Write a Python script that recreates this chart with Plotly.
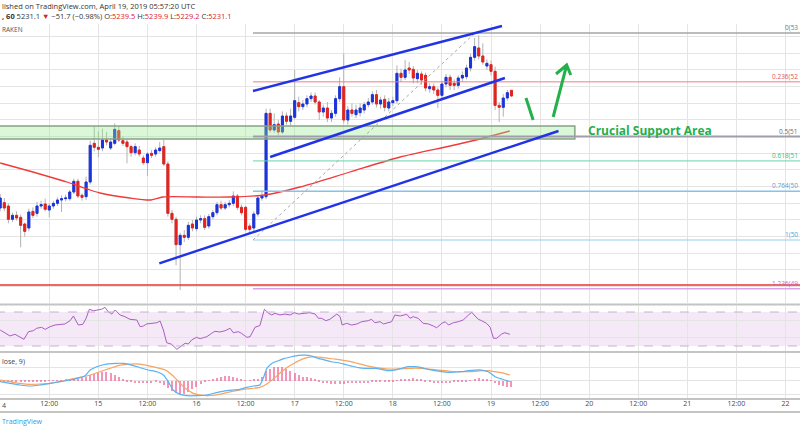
import numpy as np
import plotly.graph_objects as go

W, H = 800, 430

# ---------------- hourly candles (BTCUSD, KRAKEN, 60 min) from Apr 14 00:00 ----------------
opens = [5063, 5071, 5066, 5046, 5052, 5049, 5039, 5033, 5058, 5055,
         5066, 5069, 5060, 5066, 5070, 5075, 5077, 5077, 5087, 5103,
         5082, 5080, 5102, 5160, 5154, 5153, 5165, 5153, 5160, 5179,
         5164, 5162, 5155, 5146, 5150, 5138, 5131, 5145, 5144, 5149,
         5155, 5129, 5055, 5046, 5008, 5022, 5019, 5039, 5032, 5045,
         5047, 5036, 5050, 5056, 5068, 5063, 5068, 5070, 5081, 5064,
         5064, 5036, 5033, 5054, 5078, 5080, 5205, 5180, 5189, 5177,
         5201, 5193, 5199, 5221, 5215, 5219, 5227, 5231, 5222, 5207,
         5213, 5198, 5205, 5227, 5245, 5195, 5210, 5203, 5206, 5210,
         5218, 5222, 5233, 5219, 5226, 5213, 5221, 5224, 5265, 5259,
         5273, 5271, 5257, 5264, 5262, 5242, 5245, 5240, 5232, 5249,
         5259, 5250, 5247, 5258, 5260, 5273, 5289, 5303, 5291, 5276,
         5278, 5268, 5217, 5214, 5228, 5239.5]
highs = [5084, 5078, 5070, 5056, 5058, 5053, 5041, 5062, 5064, 5072,
         5074, 5077, 5070, 5074, 5079, 5082, 5083, 5090, 5107, 5107,
         5085, 5110, 5164, 5185, 5178, 5182, 5177, 5168, 5190, 5186,
         5170, 5166, 5158, 5160, 5156, 5142, 5147, 5150, 5154, 5162,
         5166, 5133, 5060, 5050, 5026, 5030, 5042, 5045, 5050, 5052,
         5052, 5054, 5060, 5072, 5074, 5072, 5075, 5088, 5084, 5068,
         5066, 5040, 5058, 5082, 5090, 5212, 5212, 5205, 5195, 5208,
         5206, 5212, 5270, 5230, 5225, 5232, 5236, 5236, 5225, 5218,
         5222, 5210, 5232, 5259, 5295, 5216, 5220, 5218, 5220, 5222,
         5228, 5238, 5240, 5230, 5232, 5228, 5230, 5277, 5272, 5285,
         5282, 5276, 5270, 5268, 5266, 5250, 5250, 5244, 5254, 5264,
         5263, 5256, 5262, 5268, 5278, 5294, 5318, 5322, 5310, 5286,
         5284, 5275, 5222, 5234, 5240, 5239.9]
lows = [5058, 5058, 5040, 5042, 5044, 5004, 5020, 5028, 5048, 5050,
        5062, 5058, 5049, 5062, 5066, 5057, 5073, 5074, 5084, 5078,
        5074, 5075, 5098, 5148, 5139, 5148, 5157, 5150, 5157, 5162,
        5156, 5130, 5140, 5142, 5140, 5128, 5111, 5138, 5140, 5146,
        5126, 5050, 5040, 4977, 4940, 5012, 5015, 5028, 5028, 5040,
        5030, 5032, 5046, 5052, 5060, 5060, 5064, 5066, 5060, 5052,
        5028, 5025, 5028, 5050, 5074, 5076, 5176, 5176, 5172, 5174,
        5188, 5186, 5196, 5208, 5210, 5214, 5222, 5218, 5195, 5200,
        5192, 5192, 5200, 5222, 5190, 5188, 5200, 5198, 5200, 5205,
        5214, 5218, 5214, 5212, 5208, 5208, 5216, 5220, 5252, 5255,
        5264, 5250, 5250, 5248, 5238, 5236, 5234, 5213, 5226, 5244,
        5240, 5240, 5242, 5252, 5256, 5268, 5284, 5286, 5278, 5270,
        5262, 5210, 5192, 5200, 5224, 5229.2]
closes = [5078, 5063, 5046, 5052, 5048, 5037, 5028, 5057, 5052, 5066,
          5068, 5061, 5066, 5070, 5075, 5077, 5078, 5087, 5103, 5081,
          5079, 5102, 5157, 5154, 5151, 5165, 5162, 5162, 5181, 5165,
          5160, 5155, 5146, 5155, 5144, 5131, 5144, 5142, 5150, 5153,
          5129, 5055, 5046, 5008, 5022, 5019, 5037, 5033, 5045, 5047,
          5034, 5050, 5056, 5068, 5063, 5068, 5070, 5081, 5064, 5056,
          5031, 5031, 5054, 5078, 5081, 5205, 5180, 5188, 5177, 5201,
          5193, 5201, 5224, 5215, 5219, 5227, 5231, 5222, 5207, 5213,
          5198, 5205, 5227, 5245, 5195, 5210, 5205, 5210, 5213, 5218,
          5222, 5233, 5219, 5225, 5214, 5222, 5224, 5265, 5259, 5270,
          5270, 5258, 5265, 5255, 5243, 5245, 5240, 5232, 5249, 5259,
          5247, 5247, 5258, 5262, 5273, 5289, 5305, 5291, 5282, 5280,
          5268, 5217, 5214, 5228, 5236, 5231.1]

# moving average (hour, price)
ma_points = [(0, 5130.5), (8.0, 5117), (16.3, 5102), (22.0, 5090), (24.4, 5085.5),
             (31.7, 5078), (36.6, 5075), (39.8, 5079.5), (48.1, 5079.5), (56.2, 5079.5),
             (64.7, 5082.5), (73.3, 5094.5), (85.5, 5117), (97.8, 5139.5), (110.0, 5156),
             (117.3, 5166.5), (124.6, 5178.5)]

# RSI (hour, value)
rsi_points = [(0, 48.8), (1.2, 44.9), (2.4, 41.8), (3.6, 43.8), (4.8, 40.9), (5.8, 37.9), (6.9, 46.8),
              (8.1, 48.0), (8.9, 50.8), (10.1, 52.0), (11.0, 49.6), (12.2, 52.7), (13.4, 54.7),
              (14.6, 55.5), (15.8, 55.9), (17.1, 59.8), (17.9, 65.3), (19.1, 54.7), (20.2, 55.5),
              (21.0, 62.6), (21.8, 73.2), (22.8, 71.5), (24.0, 72.4), (24.8, 73.2), (25.6, 75.5),
              (26.4, 70.4), (27.3, 67.6), (28.1, 72.4), (29.3, 66.5), (30.5, 64.5), (31.7, 61.4),
              (32.5, 60.6), (33.4, 60.6), (34.2, 52.7), (35.0, 53.5), (35.8, 55.9), (37.0, 56.7),
              (38.3, 57.4), (39.1, 59.4), (39.9, 48.8), (40.7, 33.9), (41.9, 32.0), (43.2, 26.1),
              (44.0, 29.2), (45.2, 33.2), (46.0, 32.4), (46.8, 37.1), (48.0, 40.2), (48.9, 38.6),
              (49.7, 39.8), (50.5, 40.9), (51.7, 44.9), (52.5, 47.3), (53.7, 46.5), (55.0, 48.0),
              (56.2, 50.8), (57.0, 45.6), (58.2, 46.8), (59.0, 44.9), (60.3, 40.2), (61.1, 40.9),
              (62.3, 52.0), (63.5, 54.1), (64.6, 73.2), (65.6, 68.5), (66.4, 66.5), (67.2, 68.5),
              (68.4, 66.5), (69.6, 67.6), (70.9, 66.5), (71.9, 69.2), (72.9, 67.6), (74.1, 68.5),
              (75.7, 69.2), (77.0, 67.6), (77.8, 62.6), (78.6, 62.6), (79.6, 59.8), (80.6, 61.4),
              (81.4, 64.5), (82.3, 67.6), (83.1, 64.5), (83.6, 54.7), (84.7, 56.7), (85.9, 54.7),
              (87.2, 55.9), (88.4, 58.6), (90.0, 59.8), (90.8, 61.4), (91.6, 57.4), (92.9, 58.6),
              (93.7, 55.9), (94.5, 56.7), (95.7, 58.6), (96.5, 66.5), (97.8, 65.3), (99.4, 67.3),
              (100.2, 62.6), (101.0, 64.5), (102.2, 62.6), (103.4, 56.7), (104.7, 55.9), (105.9, 53.5),
              (106.7, 51.5), (108.0, 56.7), (108.8, 58.6), (109.6, 54.7), (110.8, 57.4), (112.0, 58.6),
              (113.2, 60.6), (114.5, 66.5), (115.3, 69.6), (116.1, 65.3), (116.9, 61.4), (117.7, 59.8),
              (118.9, 56.7), (119.8, 52.0), (120.6, 39.1), (121.4, 39.1), (122.6, 44.1), (123.4, 45.6),
              (124.2, 44.9), (124.6, 43.8)]

# MACD line (hour, value)
macd_points = [(0, -1.5), (2.4, -4), (4.8, -6.5), (7.3, -8), (9.7, -6.5), (12.2, -4), (14.6, -1.5),
               (17.1, 1), (19.5, 4.5), (20.7, 7), (22.0, 16), (23.6, 21), (26.0, 25), (28.1, 26),
               (30.1, 26), (32.1, 23.5), (34.2, 19.5), (36.2, 16), (38.3, 13.5), (39.9, 8.5),
               (41.1, -1.5), (42.3, -14), (44.0, -20.5), (45.6, -22.5), (48.0, -22.5), (50.5, -21.5),
               (52.9, -18), (55.4, -15), (57.0, -14), (58.6, -13), (60.3, -10), (61.9, -8),
               (63.5, -6.5), (64.3, 3.5), (65.2, 18.5), (66.4, 26), (68.0, 30), (69.6, 33.5),
               (71.3, 36), (72.9, 38), (74.5, 38.5), (76.2, 37), (77.8, 33.5), (79.4, 31),
               (81.0, 28.5), (82.7, 27), (84.3, 24.5), (85.9, 22), (87.6, 19.5), (89.2, 18.5),
               (91.6, 18.5), (93.3, 17), (94.9, 15), (96.5, 16), (98.2, 18.5), (99.8, 21),
               (101.4, 21), (103.0, 19.5), (104.7, 17), (106.3, 15), (107.9, 13.5), (109.6, 12.5),
               (111.2, 13), (112.8, 13.5), (114.4, 15), (116.1, 16), (117.7, 16), (119.3, 13.5),
               (121.0, 6), (122.6, 2.5), (124.2, -0.5), (124.6, -1.5)]

# signal line (hour, value)
signal_points = [(0, 1), (2.4, -1.5), (4.8, -4), (7.3, -5.5), (9.7, -5), (12.2, -4), (14.6, -1.5),
                 (17.1, 2), (19.5, 5), (22.0, 8.5), (24.4, 13.5), (26.8, 18.5), (29.3, 23.5),
                 (31.7, 25), (34.2, 25), (36.6, 22), (39.1, 18.5), (40.7, 15), (42.3, 7), (44.0, -4),
                 (45.6, -13), (47.2, -19), (48.9, -21.5), (50.5, -22.5), (52.9, -21.5), (55.4, -18),
                 (57.8, -15), (60.3, -12.5), (63.5, -10), (65.6, -3), (67.2, 5), (68.8, 13.5),
                 (70.4, 21), (72.1, 27), (73.7, 32), (75.3, 35), (77.0, 36), (78.6, 35), (80.2, 33.5),
                 (81.9, 32.5), (83.5, 31), (85.1, 29.5), (86.7, 27), (88.4, 24.5), (90.0, 22),
                 (91.6, 20), (93.3, 18.5), (94.9, 17.5), (96.5, 17.5), (98.2, 18), (99.8, 18.5),
                 (101.4, 19), (103.0, 18.5), (104.7, 17.5), (106.3, 16.5), (107.9, 15.5), (109.6, 14.5),
                 (111.2, 13.5), (112.8, 13.5), (114.4, 13.5), (116.1, 14), (117.7, 15), (119.3, 15),
                 (121.0, 13.5), (122.6, 12), (124.6, 8.5)]

# MACD histogram, one value per candle
macd_hist = [-1.5, -2, -2.5, -2.5, -2.5, -2.5, -2.5, -2.5, -2, -1.5,
             -1, -0.5, 0.5, 0.5, 1, 1, 1.5, 1.5, 2, 2.5,
             4, 6, 8, 10, 12, 13.5, 13, 11, 8, 5,
             2, -1, -2, -3, -3, -3.5, -3, -3, -2.5, -4,
             -7, -11, -15, -19, -21, -20, -17, -13, -9, -5,
             -2, 0.5, 2, 3.5, 5, 7, 7, 6, 3.5, 2,
             1, 1, 2, 2, 5, 14, 18, 20, 21, 20,
             17, 14, 12, 9, 6, 5, 3.5, 2, -1.5, -3,
             -4, -5, -5, -5, -4.5, -4, -4, -3.5, -3, -3,
             -3, -2.5, -2, -2, -1.5, -1, -0.5, 0.5, 1.5, 2.5,
             3, 3.5, 3, 2, -1, -2, -3, -3.5, -3.5, -3,
             -3, -2.5, -2, -1.5, -1, 1, 2.5, 3.5, 3, 2,
             0.5, -4, -6.5, -8, -9, -10]

# time axis
tick_hours = list(range(0, 193, 12))
tick_labels = ["14", "12:00", "15", "12:00", "16", "12:00", "17", "12:00", "18",
               "12:00", "19", "12:00", "20", "12:00", "21", "12:00", "22"]

# chart drawings (hour, price)
fib_anchor = [(61.8, 5015.0), (116.1, 5325.5)]
fib_ratios = [0, 0.236, 0.5, 0.618, 0.764, 1, 1.236]
fib_labels = ["0(53", "0.236(52", "0.5(51", "0.618(51", "0.764(50", "1(50", "1.236(49"]
support_line_price = 4947.5
support_zone = [(-1, 5166.5), (140.5, 5186.0)]
channel_upper = [(61.8, 5238.5), (122.7, 5336.0)]
channel_lower = [(66.0, 5139.5), (123.4, 5258.0)]
trend_support = [(38.9, 4980.0), (136.5, 5178.5)]
green_dip = [(128.55, 5228.0), (130.3, 5195.0)]
green_arrow = [(135.2, 5199.5), (138.5, 5277.5)]
green_head = [(135.9, 5264.0), (138.5, 5277.5), (139.5, 5262.5)]
zone_text_pos = (143.2, 5180.0)

# ---------------- figure ----------------
def py(p):
    return 1 - p / H

hours = np.arange(len(closes))
o, h_, l_, c = map(np.array, (opens, highs, lows, closes))
X0, X1 = -0.05, 195.55
UP, DOWN = "#1b34dc", "#e3231f"
GRID = "#e4e4e4"
FONT = "Open Sans"

fig = go.Figure()

# wicks
fig.add_trace(go.Candlestick(
    x=hours, open=o, high=h_, low=l_, close=c, xaxis="x", yaxis="y",
    increasing=dict(line=dict(color="#b3b3b3", width=1), fillcolor="#b3b3b3"),
    decreasing=dict(line=dict(color="#b3b3b3", width=1), fillcolor="#b3b3b3"),
    whiskerwidth=0, hoverinfo="skip", showlegend=False))

# moving average
fig.add_trace(go.Scatter(x=[p[0] for p in ma_points], y=[p[1] for p in ma_points],
                         mode="lines", line=dict(color="#f03a3a", width=1.3, shape="spline", smoothing=0.7),
                         xaxis="x", yaxis="y", hoverinfo="skip", showlegend=False))

# bodies
fig.add_trace(go.Candlestick(
    x=hours, open=o, high=np.maximum(o, c), low=np.minimum(o, c), close=c, xaxis="x", yaxis="y",
    increasing=dict(line=dict(color=UP, width=1), fillcolor=UP),
    decreasing=dict(line=dict(color=DOWN, width=1), fillcolor=DOWN),
    whiskerwidth=0, hoverinfo="skip", showlegend=False))

# RSI
fig.add_trace(go.Scatter(x=[p[0] for p in rsi_points], y=[p[1] for p in rsi_points],
                         mode="lines", line=dict(color="#ab5cc6", width=1),
                         xaxis="x2", yaxis="y2", hoverinfo="skip", showlegend=False))

# MACD
fig.add_trace(go.Bar(x=hours, y=macd_hist, width=0.3, marker=dict(color="#f0689c", line=dict(width=0)),
                     opacity=0.7, xaxis="x3", yaxis="y3", hoverinfo="skip", showlegend=False))
fig.add_trace(go.Scatter(x=[p[0] for p in signal_points], y=[p[1] for p in signal_points],
                         mode="lines", line=dict(color="#f7a45e", width=1.2, shape="spline", smoothing=0.5),
                         xaxis="x3", yaxis="y3", hoverinfo="skip", showlegend=False))
fig.add_trace(go.Scatter(x=[p[0] for p in macd_points], y=[p[1] for p in macd_points],
                         mode="lines", line=dict(color="#5ab2f2", width=1.2, shape="spline", smoothing=0.5),
                         xaxis="x3", yaxis="y3", hoverinfo="skip", showlegend=False))

shapes = []
# support zone box
shapes.append(dict(type="rect", xref="x", yref="y", x0=support_zone[0][0], x1=support_zone[1][0],
                   y0=support_zone[0][1], y1=support_zone[1][1],
                   fillcolor="rgba(150,232,140,0.35)", line=dict(color="#86a386", width=1.5)))
# fib levels
fib_lo, fib_hi = fib_anchor[0][1], fib_anchor[1][1]
fib_line_colors = ["#a6a6a6", "#e88080", "#a39cae", "#67d6a8", "#82c4ec", "#94cff0", "#d9a3ea"]
fib_text_colors = ["#777777", "#e25555", "#6c6877", "#2fbf7c", "#5a9fd6", "#4aa9dc", "#c668c9"]
fib_widths = [1.5, 1, 2, 1, 1.5, 1, 1.5]
fib_prices = [fib_hi - r * (fib_hi - fib_lo) for r in fib_ratios]
for pr, col, wd in zip(fib_prices, fib_line_colors, fib_widths):
    shapes.append(dict(type="line", xref="x", yref="y", x0=fib_anchor[0][0], x1=X1 + 5,
                       y0=pr, y1=pr, line=dict(color=col, width=wd)))
shapes.append(dict(type="line", xref="x", yref="y", x0=fib_anchor[0][0], y0=fib_anchor[0][1],
                   x1=fib_anchor[1][0], y1=fib_anchor[1][1], line=dict(color="#a8a8a8", width=1, dash="dot")))
# red horizontal support
shapes.append(dict(type="line", xref="x", yref="y", x0=X0 - 1, x1=X1 + 5, y0=support_line_price,
                   y1=support_line_price, line=dict(color="#e53935", width=1.6)))
# blue trend lines
for seg in (channel_upper, channel_lower, trend_support):
    shapes.append(dict(type="line", xref="x", yref="y", x0=seg[0][0], y0=seg[0][1], x1=seg[1][0],
                       y1=seg[1][1], line=dict(color="#2233e6", width=2.4)))
# green arrows
for seg in (green_dip, green_arrow):
    shapes.append(dict(type="line", xref="x", yref="y", x0=seg[0][0], y0=seg[0][1], x1=seg[1][0],
                       y1=seg[1][1], line=dict(color="#24b04a", width=3)))
shapes.append(dict(type="path", xref="x", yref="y",
                   path="M {} {} L {} {} L {} {}".format(green_head[0][0], green_head[0][1], green_head[1][0],
                                                         green_head[1][1], green_head[2][0], green_head[2][1]),
                   line=dict(color="#24b04a", width=3)))
# RSI band
shapes.append(dict(type="rect", xref="x2", yref="y2", x0=X0 - 1, x1=X1 + 5, y0=30, y1=70,
                   fillcolor="rgba(156,39,176,0.10)", line=dict(width=0), layer="below"))
for lv in (30, 70):
    shapes.append(dict(type="line", xref="x2", yref="y2", x0=X0 - 1, x1=X1 + 5, y0=lv, y1=lv,
                       line=dict(color="#c6b2d2", width=1, dash="dash")))
# pane separators
for yp, wd in ((304.5, 2), (352, 2), (399, 2), (412, 2)):
    shapes.append(dict(type="line", xref="paper", yref="paper", x0=0, x1=1, y0=py(yp), y1=py(yp),
                       line=dict(color="#c4c4c4", width=wd)))

ann = []
red = "#e0201f"
ann.append(dict(xref="paper", yref="paper", x=0, y=py(6.5), xanchor="left", yanchor="middle", showarrow=False,
                text="lished on TradingView.com, April 19, 2019 05:57:20 UTC",
                font=dict(family=FONT, size=7.5, color="#333333")))
ann.append(dict(xref="paper", yref="paper", x=0, y=py(16), xanchor="left", yanchor="middle", showarrow=False,
                text=("<b>, 60</b> 5231.1 <span style='color:%s'>▼</span> −51.7 (−0.98%%) "
                      "O:<span style='color:%s'>5239.5</span> H:<span style='color:%s'>5239.9</span> "
                      "L:<span style='color:%s'>5229.2</span> C:<span style='color:%s'>5231.1</span>")
                     % (red, red, red, red, red),
                font=dict(family=FONT, size=7.5, color="#333333")))
ann.append(dict(xref="paper", yref="paper", x=0, y=py(29.5), xanchor="left", yanchor="middle", showarrow=False,
                text="RAKEN", font=dict(family=FONT, size=6.5, color="#555555")))
ann.append(dict(xref="paper", yref="paper", x=0, y=py(361), xanchor="left", yanchor="middle", showarrow=False,
                text="lose, 9)", font=dict(family=FONT, size=7, color="#444444")))
ann.append(dict(xref="paper", yref="paper", x=0, y=py(421), xanchor="left", yanchor="middle", showarrow=False,
                text="TradingView", font=dict(family=FONT, size=7, color="#2d9be8")))
# the "14" day label is cut by the left edge in the reference, only its "4" shows
ann.append(dict(xref="paper", yref="paper", x=0, y=py(405.5), xanchor="left", yanchor="middle", showarrow=False,
                text=tick_labels[0][-1], font=dict(family=FONT, size=7, color="#4a4a4a")))
ann.append(dict(xref="x", yref="y", x=zone_text_pos[0], y=zone_text_pos[1], xanchor="left", yanchor="middle",
                showarrow=False, text="<b>Crucial Support Area</b>",
                font=dict(family=FONT, size=12, color="#22b04b")))
for pr, lab, col in zip(fib_prices, fib_labels, fib_text_colors):
    ann.append(dict(xref="paper", yref="y", x=1, y=pr, xanchor="right", yanchor="bottom", showarrow=False,
                    text=lab, font=dict(family=FONT, size=6.5, color=col), yshift=-1))

xcommon = dict(range=[X0, X1], showgrid=True, gridcolor=GRID, gridwidth=1, tickvals=tick_hours,
               zeroline=False, showline=False, fixedrange=True)

fig.update_layout(
    width=W, height=H, margin=dict(l=0, r=0, t=0, b=0),
    paper_bgcolor="white", plot_bgcolor="white", showlegend=False, boxgap=0.3,
    xaxis=dict(**xcommon, domain=[0, 1], anchor="y", showticklabels=False, rangeslider=dict(visible=False)),
    xaxis2=dict(**xcommon, domain=[0, 1], anchor="y2", showticklabels=False, matches="x"),
    xaxis3=dict(**xcommon, domain=[0, 1], anchor="y3", showticklabels=True, ticktext=tick_labels,
                tickfont=dict(family=FONT, size=7, color="#4a4a4a"), ticks="", matches="x"),
    yaxis=dict(domain=[py(303), py(24)], range=[4920.5, 5339], tick0=5295.5, dtick=25,
               showgrid=True, gridcolor=GRID, showticklabels=False, zeroline=False, fixedrange=True),
    yaxis2=dict(domain=[py(351), py(306)], range=[24.1, 77.06], tickvals=[40, 60],
                showgrid=True, gridcolor=GRID, showticklabels=False, zeroline=False, fixedrange=True),
    yaxis3=dict(domain=[py(398), py(353)], range=[-26, 41.6], tickvals=[-20, 0, 20],
                showgrid=True, gridcolor=GRID, showticklabels=False, zeroline=False, fixedrange=True),
    shapes=shapes, annotations=ann, bargap=0,
)

fig.write_html("out.html", config={"displayModeBar": False},
               post_script="document.body.style.margin='0px';")
